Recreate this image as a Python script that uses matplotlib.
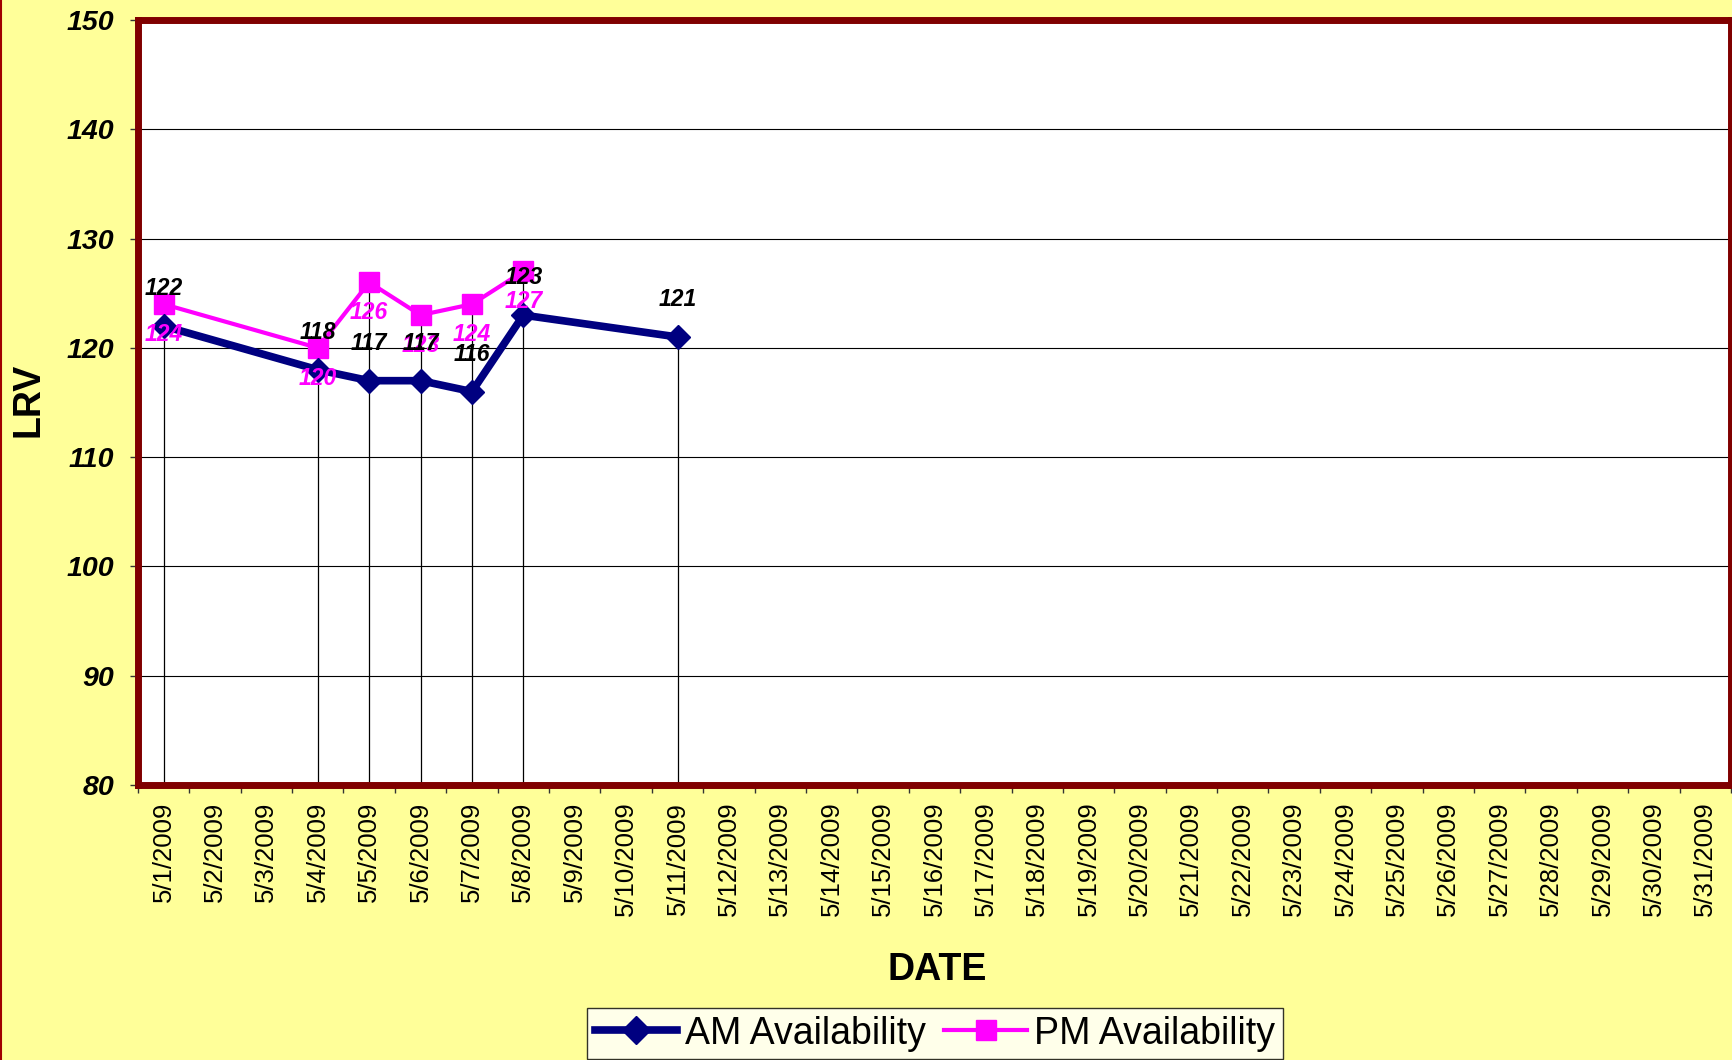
import numpy as np
import matplotlib
matplotlib.use("Agg")
import matplotlib.pyplot as plt
from matplotlib.lines import Line2D

plt.rcParams['font.family'] = ['Liberation Sans', 'DejaVu Sans']

dates = ['5/1/2009', '5/2/2009', '5/3/2009', '5/4/2009', '5/5/2009', '5/6/2009',
         '5/7/2009', '5/8/2009', '5/9/2009', '5/10/2009', '5/11/2009', '5/12/2009',
         '5/13/2009', '5/14/2009', '5/15/2009', '5/16/2009', '5/17/2009', '5/18/2009',
         '5/19/2009', '5/20/2009', '5/21/2009', '5/22/2009', '5/23/2009', '5/24/2009',
         '5/25/2009', '5/26/2009', '5/27/2009', '5/28/2009', '5/29/2009', '5/30/2009',
         '5/31/2009']

am_dates = ['5/1/2009', '5/4/2009', '5/5/2009', '5/6/2009', '5/7/2009', '5/8/2009', '5/11/2009']
am_values = [122, 118, 117, 117, 116, 123, 121]

pm_dates = ['5/1/2009', '5/4/2009', '5/5/2009', '5/6/2009', '5/7/2009', '5/8/2009']
pm_values = [124, 120, 126, 123, 124, 127]

y_ticks = [80, 90, 100, 110, 120, 130, 140, 150]

BG = '#FFFF99'
FRAME = '#800000'

fig = plt.figure(figsize=(17.33, 10.60), dpi=100, facecolor=BG)
ax = fig.add_axes([0.0796, 0.2594, 0.9192, 0.7217])
ax.set_facecolor('white')

am_x = [dates.index(d) for d in am_dates]
pm_x = [dates.index(d) for d in pm_dates]

# drop lines
tops = {}
for x, v in zip(am_x, am_values):
    tops[x] = max(tops.get(x, -np.inf), v)
for x, v in zip(pm_x, pm_values):
    tops[x] = max(tops.get(x, -np.inf), v)
xs = sorted(tops)
ax.vlines(xs, 80, [tops[x] for x in xs], colors='black', linewidth=0.9, zorder=2)

ax.set_ylim(80, 150)
ax.set_xlim(-0.5, len(dates) - 0.5)
ax.set_yticks(y_ticks)
ax.yaxis.grid(True, color='black', linewidth=0.8, zorder=1)
ax.set_axisbelow(True)

ax.plot(pm_x, pm_values, color='#FF00FF', linewidth=3, marker='s', markersize=14,
        zorder=3, label='PM Availability')
ax.plot(am_x, am_values, color='#000080', linewidth=5.5, marker='D', markersize=12.5,
        zorder=4, label='AM Availability')

for x, v in zip(am_x, am_values):
    ax.annotate(str(v), (x, v), xytext=(0, 27), textcoords='offset points',
                ha='center', va='center', fontsize=16.5, fontweight='bold',
                fontstyle='italic', color='black', zorder=6)
for x, v in zip(pm_x, pm_values):
    ax.annotate(str(v), (x, v), xytext=(0, -22), textcoords='offset points',
                ha='center', va='center', fontsize=16.5, fontweight='bold',
                fontstyle='italic', color='#FF00FF', zorder=5)

ax.set_xticks(range(len(dates)))
ax.set_xticklabels(dates, rotation=90, fontsize=18.5)
ax.set_xticks(np.arange(-0.5, len(dates), 1.0), minor=True)
ax.tick_params(axis='x', which='major', length=0, pad=12)
ax.tick_params(axis='x', which='minor', length=6, width=1, color='#333333', direction='out')
ax.tick_params(axis='y', length=6, width=1, color='#333333', pad=11)
for lab in ax.get_yticklabels():
    lab.set_fontsize(20.5)
    lab.set_fontweight('bold')
    lab.set_fontstyle('italic')

for s in ax.spines.values():
    s.set_color(FRAME)
    s.set_linewidth(5)

fig.text(0.541, 0.085, 'DATE', ha='center', va='center', fontsize=27, fontweight='bold')
fig.text(0.0165, 0.623, 'LRV', ha='center', va='center', rotation=90, fontsize=27,
         fontweight='bold')

handles = [Line2D([], [], color='#000080', linewidth=5.5, marker='D', markersize=14),
           Line2D([], [], color='#FF00FF', linewidth=3, marker='s', markersize=14)]
leg = fig.legend(handles, ['AM Availability', 'PM Availability'], loc='upper center',
                 bbox_to_anchor=(0.5395, 0.049), ncol=2, fontsize=27, frameon=True,
                 fancybox=False, edgecolor='black', handlelength=2.2, handletextpad=0.2,
                 columnspacing=0.5, borderpad=0.2, borderaxespad=0)
leg.get_frame().set_linewidth(1)

fig.add_artist(Line2D([0.0006, 0.0006], [0, 1], color='#A00000', linewidth=1.5,
                      transform=fig.transFigure))

fig.savefig('out.png', dpi=100, facecolor=BG)
